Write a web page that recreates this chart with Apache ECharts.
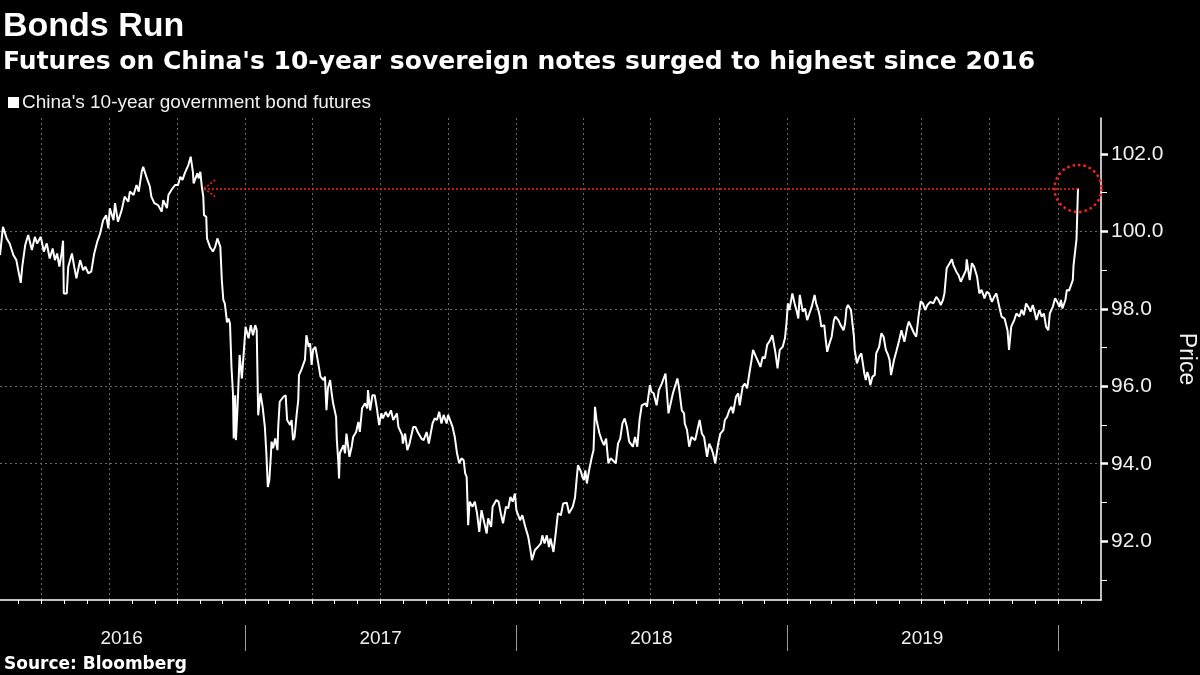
<!DOCTYPE html>
<html>
<head>
<meta charset="utf-8">
<script src="https://cdn.jsdelivr.net/npm/echarts@6/dist/echarts.min.js"></script>
<style>html,body{margin:0;padding:0;background:#000;}#chart{width:1200px;height:675px;}</style>
</head>
<body>
<div id="chart"></div>
<script>
// ---- data ----
const axisStart = '2016-02-05';
const axisEnd = '2020-02-28';
const yearLabelDates = ['2016-07-18', '2017-07-02', '2018-07-02', '2019-07-02'];
const yTickValues = [92, 94, 96, 98, 100, 102];
const seriesName = "China's 10-year government bond futures";

const dates = [
'2016-02-05','2016-02-09','2016-02-14','2016-02-18','2016-02-23','2016-02-27','2016-03-01','2016-03-04','2016-03-06','2016-03-10',
'2016-03-14','2016-03-19','2016-03-23','2016-03-26','2016-03-31','2016-04-04','2016-04-08','2016-04-12','2016-04-16','2016-04-19',
'2016-04-22','2016-04-25','2016-04-28','2016-04-30','2016-05-01','2016-05-05','2016-05-07','2016-05-12','2016-05-15','2016-05-18',
'2016-05-23','2016-05-27','2016-05-30','2016-06-03','2016-06-07','2016-06-11','2016-06-15','2016-06-19','2016-06-23','2016-06-27',
'2016-06-30','2016-07-02','2016-07-07','2016-07-09','2016-07-13','2016-07-18','2016-07-22','2016-07-27','2016-07-29','2016-08-03',
'2016-08-07','2016-08-10','2016-08-14','2016-08-16','2016-08-21','2016-08-25','2016-08-27','2016-08-31','2016-09-05','2016-09-10',
'2016-09-12','2016-09-17','2016-09-19','2016-09-23','2016-09-28','2016-10-02','2016-10-05','2016-10-08','2016-10-11','2016-10-16',
'2016-10-19','2016-10-22','2016-10-23','2016-10-28','2016-10-30','2016-11-01','2016-11-03','2016-11-05','2016-11-06','2016-11-09',
'2016-11-10','2016-11-14','2016-11-18','2016-11-21','2016-11-24','2016-11-28','2016-11-30','2016-12-02','2016-12-04','2016-12-07',
'2016-12-09','2016-12-11','2016-12-13','2016-12-15','2016-12-16','2016-12-18','2016-12-19','2016-12-21','2016-12-24','2016-12-27',
'2016-12-29','2017-01-01','2017-01-05','2017-01-08','2017-01-11','2017-01-14','2017-01-16','2017-01-18','2017-01-21','2017-01-24',
'2017-01-27','2017-01-29','2017-01-31','2017-02-02','2017-02-04','2017-02-05','2017-02-07','2017-02-10','2017-02-13','2017-02-14',
'2017-02-16','2017-02-21','2017-02-24','2017-02-26','2017-03-02','2017-03-04','2017-03-06','2017-03-08','2017-03-11','2017-03-13',
'2017-03-14','2017-03-17','2017-03-22','2017-03-24','2017-03-27','2017-03-29','2017-03-31','2017-04-02','2017-04-05','2017-04-07',
'2017-04-09','2017-04-12','2017-04-16','2017-04-18','2017-04-20','2017-04-22','2017-04-25','2017-04-27','2017-04-29','2017-05-03',
'2017-05-04','2017-05-06','2017-05-07','2017-05-08','2017-05-10','2017-05-13','2017-05-15','2017-05-17','2017-05-21','2017-05-24',
'2017-05-26','2017-05-30','2017-06-02','2017-06-04','2017-06-07','2017-06-11','2017-06-14','2017-06-15','2017-06-18','2017-06-21',
'2017-06-24','2017-06-27','2017-06-30','2017-07-03','2017-07-05','2017-07-09','2017-07-12','2017-07-16','2017-07-19','2017-07-24',
'2017-07-26','2017-07-31','2017-08-01','2017-08-04','2017-08-07','2017-08-10','2017-08-15','2017-08-18','2017-08-21','2017-08-26',
'2017-08-29','2017-09-02','2017-09-05','2017-09-10','2017-09-13','2017-09-16','2017-09-19','2017-09-22','2017-09-25','2017-09-29',
'2017-10-01','2017-10-03','2017-10-07','2017-10-10','2017-10-13','2017-10-16','2017-10-19','2017-10-22','2017-10-24','2017-10-26',
'2017-10-27','2017-10-28','2017-10-30','2017-11-03','2017-11-06','2017-11-09','2017-11-12','2017-11-15','2017-11-18','2017-11-22',
'2017-11-24','2017-11-28','2017-11-30','2017-12-05','2017-12-08','2017-12-11','2017-12-14','2017-12-18','2017-12-21','2017-12-24',
'2017-12-27','2017-12-30','2018-01-01','2018-01-06','2018-01-09','2018-01-13','2018-01-17','2018-01-20','2018-01-22','2018-01-26',
'2018-01-30','2018-02-03','2018-02-05','2018-02-08','2018-02-11','2018-02-14','2018-02-16','2018-02-20','2018-02-23','2018-02-26',
'2018-03-02','2018-03-05','2018-03-10','2018-03-13','2018-03-18','2018-03-21','2018-03-23','2018-03-25','2018-03-29','2018-03-31',
'2018-04-02','2018-04-04','2018-04-06','2018-04-09','2018-04-13','2018-04-15','2018-04-17','2018-04-19','2018-04-23','2018-04-26',
'2018-04-29','2018-05-02','2018-05-05','2018-05-08','2018-05-11','2018-05-15','2018-05-18','2018-05-21','2018-05-24','2018-05-27',
'2018-05-30','2018-06-02','2018-06-07','2018-06-10','2018-06-13','2018-06-16','2018-06-19','2018-06-24','2018-06-26','2018-06-30',
'2018-07-02','2018-07-05','2018-07-09','2018-07-12','2018-07-16','2018-07-18','2018-07-21','2018-07-25','2018-07-28','2018-07-31',
'2018-08-04','2018-08-06','2018-08-08','2018-08-12','2018-08-15','2018-08-16','2018-08-19','2018-08-22','2018-08-25','2018-08-30',
'2018-09-02','2018-09-05','2018-09-08','2018-09-11','2018-09-15','2018-09-18','2018-09-21','2018-09-23','2018-09-26','2018-09-30',
'2018-10-03','2018-10-07','2018-10-09','2018-10-12','2018-10-15','2018-10-18','2018-10-20','2018-10-24','2018-10-27','2018-10-29',
'2018-11-02','2018-11-05','2018-11-08','2018-11-11','2018-11-14','2018-11-16','2018-11-20','2018-11-23','2018-11-26','2018-11-29',
'2018-12-02','2018-12-05','2018-12-09','2018-12-12','2018-12-16','2018-12-19','2018-12-22','2018-12-26','2018-12-29','2018-12-31',
'2019-01-02','2019-01-04','2019-01-08','2019-01-11','2019-01-14','2019-01-16','2019-01-18','2019-01-20','2019-01-22','2019-01-25',
'2019-01-28','2019-01-31','2019-02-03','2019-02-07','2019-02-09','2019-02-12','2019-02-14','2019-02-16','2019-02-20','2019-02-22',
'2019-02-24','2019-02-27','2019-03-02','2019-03-05','2019-03-07','2019-03-11','2019-03-14','2019-03-18','2019-03-20','2019-03-22',
'2019-03-24','2019-03-28','2019-03-30','2019-04-01','2019-04-02','2019-04-05','2019-04-08','2019-04-11','2019-04-15','2019-04-17',
'2019-04-19','2019-04-21','2019-04-23','2019-04-26','2019-04-29','2019-05-01','2019-05-05','2019-05-08','2019-05-11','2019-05-14',
'2019-05-17','2019-05-19','2019-05-21','2019-05-25','2019-05-28','2019-06-01','2019-06-04','2019-06-06','2019-06-08','2019-06-12',
'2019-06-14','2019-06-18','2019-06-21','2019-06-24','2019-06-27','2019-06-30','2019-07-03','2019-07-06','2019-07-09','2019-07-13',
'2019-07-17','2019-07-21','2019-07-24','2019-07-27','2019-07-30','2019-08-01','2019-08-04','2019-08-08','2019-08-11','2019-08-13',
'2019-08-17','2019-08-20','2019-08-23','2019-08-26','2019-08-30','2019-08-31','2019-09-04','2019-09-07','2019-09-10','2019-09-14',
'2019-09-17','2019-09-20','2019-09-24','2019-09-27','2019-09-30','2019-10-04','2019-10-07','2019-10-10','2019-10-14','2019-10-17',
'2019-10-21','2019-10-25','2019-10-27','2019-10-30','2019-11-03','2019-11-06','2019-11-10','2019-11-13','2019-11-16','2019-11-19',
'2019-11-22','2019-11-25','2019-11-28','2019-12-01','2019-12-03','2019-12-07','2019-12-10','2019-12-13','2019-12-16','2019-12-19',
'2019-12-21','2019-12-25','2019-12-28','2019-12-31','2020-01-03','2020-01-05','2020-01-07','2020-01-11','2020-01-13','2020-01-16',
'2020-01-17','2020-01-21','2020-01-22','2020-01-24','2020-01-26','2020-01-27','2020-01-28'
];

const values = [
99.39,100.12,99.82,99.69,99.39,99.26,98.96,98.67,99.09,99.65,
99.91,99.52,99.86,99.69,99.86,99.48,99.69,99.30,99.56,99.26,
99.43,99.09,99.43,99.76,98.40,98.40,99.09,99.43,99.09,98.79,
99.26,99.00,99.09,98.92,98.96,99.43,99.73,99.95,100.29,100.42,
100.08,100.60,100.29,100.73,100.25,100.55,100.90,100.77,101.03,100.94,
101.20,101.03,101.54,101.67,101.37,101.16,100.90,100.73,100.68,100.51,
100.81,100.60,100.94,101.07,101.20,101.20,101.41,101.33,101.50,101.72,
101.93,101.54,101.24,101.50,101.37,101.54,101.16,100.90,100.42,100.38,
99.82,99.60,99.48,99.60,99.82,99.60,98.74,98.23,98.14,97.65,
97.75,97.62,96.50,95.82,94.65,95.77,94.61,95.38,96.81,96.20,
96.72,97.54,97.24,97.58,97.32,97.58,97.45,95.25,95.82,95.47,
94.95,94.27,93.40,93.58,94.18,94.57,94.40,94.65,94.35,94.95,
95.60,95.73,95.77,95.13,95.00,95.13,94.61,94.69,95.30,95.64,
96.29,96.42,96.68,97.32,97.02,97.11,96.55,96.94,97.02,96.81,
96.76,96.25,96.16,96.25,95.38,95.95,96.16,95.82,95.56,95.21,
94.61,94.05,93.62,94.27,94.31,94.48,94.27,94.78,94.18,94.44,
94.69,94.82,95.08,94.82,95.43,95.56,95.43,95.90,95.38,95.77,
95.77,95.43,95.00,95.30,95.17,95.34,95.21,95.38,95.13,95.30,
94.95,94.74,94.52,94.78,94.35,94.52,94.95,94.95,94.82,94.65,
94.61,94.82,94.52,95.04,95.17,95.13,95.34,95.04,95.26,95.04,
95.26,95.21,94.95,94.69,94.27,94.01,94.14,94.09,93.75,93.66,
93.06,92.41,93.02,92.89,93.02,92.72,92.24,92.80,92.54,92.20,
92.59,92.37,92.89,93.06,93.02,92.72,92.46,92.89,92.85,93.14,
93.02,93.23,92.80,92.54,92.67,92.37,92.11,91.77,91.51,91.77,
91.85,91.94,92.15,91.94,92.15,91.85,92.07,91.72,92.20,92.72,
92.67,92.97,92.99,92.72,92.89,93.12,93.55,93.96,93.80,93.66,
93.58,93.83,93.49,93.83,94.20,94.35,95.47,95.13,94.78,94.61,
94.48,94.65,94.01,94.14,94.09,94.01,94.52,94.65,95.04,95.17,
94.95,94.57,94.44,94.69,94.44,95.13,95.51,95.56,95.47,96.03,
95.86,95.82,95.51,95.90,96.07,96.07,96.33,95.30,95.56,95.82,
96.07,96.20,95.99,95.38,95.30,95.04,94.87,94.44,94.69,94.61,
94.87,95.13,94.78,94.69,94.18,94.52,94.39,94.27,94.01,94.52,
94.78,94.87,95.13,95.21,95.38,95.47,95.30,95.73,95.82,95.51,
95.99,96.07,95.95,96.33,96.68,96.94,96.76,96.63,96.50,96.76,
96.72,97.07,97.19,97.32,96.89,96.46,96.94,97.02,97.24,97.62,
98.14,97.97,98.40,98.14,97.93,97.75,98.36,98.14,97.93,98.01,
97.71,97.88,98.05,98.36,98.14,97.97,97.80,97.54,97.58,97.19,
96.89,97.11,97.28,97.71,97.80,97.71,97.58,97.45,97.62,98.01,
98.10,97.97,97.62,97.28,96.94,96.59,96.76,96.85,96.33,96.16,
96.37,96.25,96.03,96.25,96.29,96.85,97.02,97.37,97.28,96.94,
96.81,96.68,96.29,96.68,96.89,97.19,97.45,97.45,97.15,97.54,
97.67,97.50,97.37,97.28,97.80,98.20,98.14,97.97,98.10,98.18,
98.14,98.31,98.23,98.10,98.23,98.40,99.05,99.18,99.28,99.13,
98.96,98.87,98.70,98.83,99.00,99.28,98.74,99.18,99.09,98.83,
98.40,98.49,98.27,98.44,98.40,98.18,98.31,98.40,98.05,97.80,
97.75,97.45,96.94,97.54,97.71,97.88,97.80,97.97,97.84,98.14,
98.05,97.93,98.10,97.88,97.71,97.97,97.80,97.88,97.54,97.45,
97.88,98.05,98.27,98.18,98.05,98.23,98.01,98.23,98.49,98.47,
98.53,98.74,99.13,99.18,99.80,100.47,101.11
];

// annotation: dotted arrow from the latest price back to the 2016 level, circled latest point
const arrowTipDate = '2016-11-06';
const arrowArmDate = '2016-11-21';
const annotationLevel = 101.11;
const arrowArmLevels = [101.33, 100.90];
const latestDate = '2020-01-28';

// ---- build day categories ----
const days = [];
(function () {
  const s = Date.parse(axisStart + 'T00:00:00Z');
  const e = Date.parse(axisEnd + 'T00:00:00Z');
  for (let t = s; t <= e; t += 86400000) days.push(new Date(t).toISOString().slice(0, 10));
})();
const dayIndex = {};
days.forEach((d, i) => { dayIndex[d] = i; });
const seriesData = dates.map((d, i) => [dayIndex[d], values[i]]);

const quarterMonths = ['01', '04', '07', '10'];
const txt = '#f0f0f0';
const sans = "'Liberation Sans', Arial, sans-serif";

const chart = echarts.init(document.getElementById('chart'), null, { renderer: 'canvas' });
chart.setOption({
  backgroundColor: '#000',
  animation: false,
  title: [
    { text: 'Bonds Run', left: 3, top: 10, padding: 0,
      textStyle: { color: '#fff', fontSize: 34, fontWeight: 'bold', fontFamily: sans } },
    { text: "Futures on China's 10-year sovereign notes surged to highest since 2016", left: 3, top: 50, padding: 0,
      textStyle: { color: '#fff', fontSize: 25, fontWeight: 'bold', fontFamily: "'DejaVu Sans', sans-serif" } },
    { text: 'Source: Bloomberg', left: 4, top: 656, padding: 0,
      textStyle: { color: '#fff', fontSize: 17, fontWeight: 'bold', fontFamily: "'DejaVu Sans', sans-serif" } }
  ],
  legend: {
    left: 8, top: 93, padding: 0, itemWidth: 11, itemHeight: 11, itemGap: 4, icon: 'rect',
    textStyle: { color: txt, fontSize: 19, fontFamily: sans, padding: [0, 0, 0, -2] },
    data: [seriesName]
  },
  grid: { left: 0, right: 99, top: 118, bottom: 75, containLabel: false, outerBoundsMode: 'none' },
  xAxis: [
    {
      type: 'category', data: days, boundaryGap: false,
      axisLine: { lineStyle: { color: '#fff', width: 1.5 } },
      axisTick: { interval: (i, v) => v.slice(8) === '01', length: 4, lineStyle: { color: '#fff', width: 1 } },
      splitLine: { show: true, interval: (i, v) => v.slice(8) === '01' && quarterMonths.includes(v.slice(5, 7)),
                   lineStyle: { color: '#6a6a6a', type: [2, 3], width: 1 } },
      axisLabel: { interval: (i, v) => yearLabelDates.includes(v), formatter: v => v.slice(0, 4),
                   margin: 29, color: txt, fontSize: 19, fontFamily: sans }
    },
    {
      type: 'category', data: days, boundaryGap: false, position: 'bottom', offset: 25,
      axisLine: { show: false },
      axisLabel: { show: false },
      splitLine: { show: false },
      axisTick: { interval: (i, v) => v.slice(5) === '01-01', length: 26, lineStyle: { color: '#9a9a9a', width: 1 } }
    }
  ],
  yAxis: {
    type: 'value', position: 'right', min: 90.48, max: 102.93,
    axisLine: { show: true, lineStyle: { color: '#fff', width: 1.5 } },
    axisTick: { show: true, customValues: yTickValues, length: 7, lineStyle: { color: '#fff', width: 2.5 } },
    minorTick: { show: true, splitNumber: 2, length: 6, lineStyle: { color: '#fff', width: 1 } },
    splitLine: { show: true, showMinLine: false, showMaxLine: false, lineStyle: { color: '#6a6a6a', type: [2, 3], width: 1 } },
    axisLabel: {
      customValues: yTickValues,
      margin: 10, color: txt, fontSize: 21, fontFamily: sans,
      formatter: v => v.toFixed(1)
    },
    name: 'Price', nameLocation: 'middle', nameRotate: -90, nameGap: 67,
    nameTextStyle: { color: txt, fontSize: 23, fontFamily: sans }
  },
  series: [{
    name: seriesName, type: 'line', xAxisIndex: 0, data: seriesData,
    showSymbol: false, symbol: 'none', sampling: null,
    lineStyle: { color: '#fff', width: 2 }, itemStyle: { color: '#fff' },
    markLine: {
      silent: true, symbol: ['none', 'none'],
      label: { show: false },
      lineStyle: { color: '#ff1f1f', type: [2, 2], width: 1.5 },
      data: [
        [{ coord: [dayIndex[arrowTipDate], annotationLevel] }, { coord: [dayIndex[latestDate], annotationLevel] }],
        [{ coord: [dayIndex[arrowTipDate], annotationLevel] }, { coord: [dayIndex[arrowArmDate], arrowArmLevels[0]] }],
        [{ coord: [dayIndex[arrowTipDate], annotationLevel] }, { coord: [dayIndex[arrowArmDate], arrowArmLevels[1]] }]
      ]
    },
    markPoint: {
      silent: true, symbol: 'circle', symbolSize: 47,
      label: { show: false },
      itemStyle: { color: 'rgba(0,0,0,0)', borderColor: '#ff1f1f', borderWidth: 2.5, borderType: [2.5, 3] },
      data: [{ coord: [dayIndex[latestDate], annotationLevel] }]
    }
  }]
});
</script>
</body>
</html>
